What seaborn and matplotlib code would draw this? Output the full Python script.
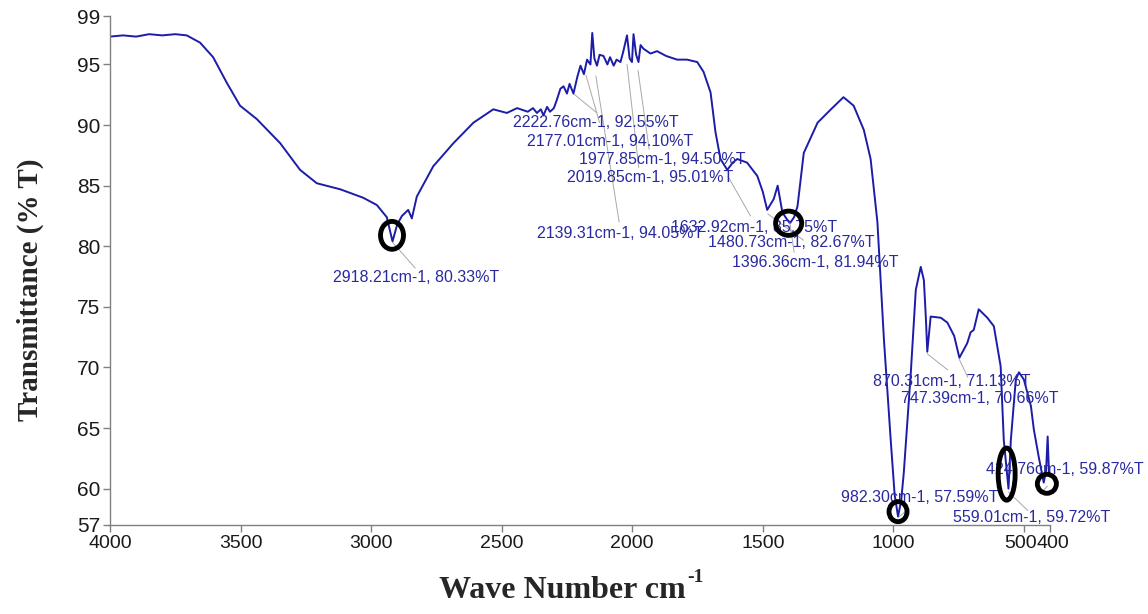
import numpy as np
import pandas as pd
import matplotlib
matplotlib.use("Agg")
import matplotlib.pyplot as plt
import matplotlib.transforms as mtransforms
from matplotlib.patches import Ellipse
import seaborn as sns

# ---- data ----
wavenumber = [4000, 3950, 3900, 3850, 3800, 3750, 3706, 3655, 3605, 3553, 3502, 3438,
              3348, 3272, 3208, 3118, 3030, 2978, 2940, 2918, 2900, 2882, 2858, 2844,
              2825, 2762, 2685, 2608, 2532, 2480, 2441, 2400, 2380, 2365, 2350, 2340,
              2326, 2315, 2300, 2290, 2275, 2263, 2250, 2240, 2225, 2210, 2198, 2185,
              2173, 2160, 2153, 2145, 2135, 2125, 2110, 2095, 2085, 2071, 2060, 2045,
              2035, 2020, 2010, 2001, 1995, 1985, 1976, 1968, 1957, 1930, 1905, 1870,
              1828, 1790, 1751, 1727, 1700, 1681, 1662, 1636, 1615, 1598, 1560, 1521,
              1500, 1483, 1458, 1443, 1425, 1410, 1396, 1380, 1367, 1343, 1290, 1239,
              1191, 1152, 1113, 1087, 1061, 1036, 1010, 995, 982, 970, 960, 933, 914,
              895, 883, 875, 870, 857, 818, 793, 767, 747, 717, 704, 692, 673, 640,
              615, 589, 577, 559, 550, 531, 519, 500, 473, 462, 443, 424, 415, 409,
              404, 400]
transmittance = [97.3, 97.4, 97.3, 97.5, 97.4, 97.5, 97.4, 96.8, 95.6, 93.5, 91.6, 90.5,
                 88.5, 86.3, 85.2, 84.7, 84.0, 83.4, 82.4, 80.4, 81.8, 82.5, 83.0, 82.3,
                 84.1, 86.6, 88.5, 90.2, 91.3, 91.0, 91.4, 91.1, 91.4, 91.0, 91.3, 90.8,
                 91.5, 91.1, 91.4, 92.0, 93.0, 93.2, 92.6, 93.4, 92.6, 94.0, 94.9, 94.2,
                 95.4, 95.0, 97.6, 95.5, 94.9, 95.8, 95.7, 95.0, 95.6, 94.9, 95.4, 95.2,
                 96.0, 97.4, 95.5, 95.2, 97.5, 95.8, 95.2, 96.6, 96.3, 95.9, 96.1, 95.7,
                 95.4, 95.4, 95.2, 94.4, 92.7, 89.4, 87.2, 86.3, 86.9, 87.2, 86.9, 85.8,
                 84.5, 83.0, 83.9, 85.0, 82.8, 82.3, 81.9, 82.4, 83.3, 87.7, 90.2, 91.3,
                 92.3, 91.6, 89.6, 87.2, 82.0, 72.3, 64.0, 59.5, 57.7, 59.0, 61.3, 69.6,
                 76.4, 78.3, 77.2, 73.9, 71.3, 74.2, 74.1, 73.7, 72.6, 70.8, 72.0, 72.9,
                 73.1, 74.8, 74.1, 73.4, 70.1, 64.0, 60.0, 64.0, 69.0, 69.6, 69.0, 66.8,
                 64.9, 62.6, 60.5, 61.5, 64.3, 61.3, 61.0]

# peak annotations
peak_labels = ["2918.21cm-1, 80.33%T", "2222.76cm-1, 92.55%T", "2177.01cm-1, 94.10%T",
               "1977.85cm-1, 94.50%T", "2019.85cm-1, 95.01%T", "2139.31cm-1, 94.05%T",
               "1632.92cm-1, 85.75%T", "1480.73cm-1, 82.67%T", "1396.36cm-1, 81.94%T",
               "870.31cm-1, 71.13%T", "747.39cm-1, 70.66%T", "424.76cm-1, 59.87%T",
               "982.30cm-1, 57.59%T", "559.01cm-1, 59.72%T"]
peak_x = [2918.21, 2222.76, 2177.01, 1977.85, 2019.85, 2139.31, 1632.92, 1480.73,
          1396.36, 870.31, 747.39, 424.76, 982.30, 559.01]
peak_y = [80.33, 92.55, 94.10, 94.50, 95.01, 94.05, 85.75, 82.67, 81.94, 71.13,
          70.66, 59.87, 57.59, 59.72]
label_x = [3145, 2455, 2402, 2202, 2248, 2363, 1853, 1708, 1616, 1079, 972, 646, 1202, 773]
label_y = [77.4, 90.2, 88.65, 87.2, 85.7, 81.05, 81.55, 80.3, 78.7, 68.8, 67.4, 61.55, 59.3, 57.66]
leader_x = [2831, 2135, 2125, 1935, 1975, 2050, 1547, 1344, 1380, 792, 715, 410, 950, 485]
leader_y = [78.2, 91.0, 90.2, 88.0, 86.5, 82.0, 82.5, 80.5, 79.5, 69.8, 69.2, 60.2, 58.2, 58.2]

# highlighted regions (black rings)
ring_x = [2920, 1401, 982, 566, 412]
ring_y = [80.9, 81.9, 58.1, 61.2, 60.4]
ring_w = [88, 100, 69, 65, 73]
ring_h = [2.3, 2.0, 1.65, 4.3, 1.57]

x_ticks = [4000, 3500, 3000, 2500, 2000, 1500, 1000, 500, 400]
y_ticks = [57, 60, 65, 70, 75, 80, 85, 90, 95, 99]

# ---- plot ----
sns.set_theme(style="white")
plt.rcParams["font.family"] = ["Liberation Sans", "DejaVu Sans"]

df = pd.DataFrame({"wn": wavenumber, "T": transmittance})

fig = plt.figure(figsize=(11.48, 6.14), dpi=100)
ax = fig.add_axes([110 / 1148, 1 - 525 / 614, 940 / 1148, 509 / 614])

sns.lineplot(data=df, x="wn", y="T", ax=ax, sort=False, estimator=None,
             color="#1c1ca8", lw=1.4)

ax.set_xlim(4000, 400)
ax.set_ylim(57, 99)
ax.set_xticks(x_ticks)
ax.set_yticks(y_ticks)
ax.set_xticklabels([str(t) for t in x_ticks], fontsize=14, color="#1a1a1a")
ax.set_yticklabels([str(t) for t in y_ticks], fontsize=15, color="#1a1a1a")
ax.tick_params(axis="both", direction="out", length=5, width=1, color="#808080",
               pad=2, left=True, bottom=True)
ax.set_xlabel("")
ax.set_ylabel("")
for s in ["top", "right"]:
    ax.spines[s].set_visible(False)
for s in ["left", "bottom"]:
    ax.spines[s].set_color("#808080")
    ax.spines[s].set_linewidth(1.0)

# the 500 and 400 labels sit side by side ("500400"); nudge them apart slightly
for lab in ax.get_xticklabels():
    if lab.get_text() == "500":
        lab.set_transform(lab.get_transform() +
                          mtransforms.ScaledTranslation(-3 / 100, 0, fig.dpi_scale_trans))
    elif lab.get_text() == "400":
        lab.set_transform(lab.get_transform() +
                          mtransforms.ScaledTranslation(3 / 100, 0, fig.dpi_scale_trans))

for lab, px, py, lx, ly, ex, ey in zip(peak_labels, peak_x, peak_y, label_x, label_y,
                                        leader_x, leader_y):
    ax.plot([px, ex], [py, ey], color="#a8a8a8", lw=0.7, zorder=2, clip_on=False)
    ax.text(lx, ly, lab, ha="left", va="center", fontsize=11.5, color="#2a2aa0",
            clip_on=False, zorder=3)

for cx, cy, w, h in zip(ring_x, ring_y, ring_w, ring_h):
    ax.add_patch(Ellipse((cx, cy), w, h, fill=False, edgecolor="black", lw=3.5,
                         zorder=5, clip_on=False))

fig.text(30 / 1148, 1 - 290 / 614, "Transmittance (% T)", rotation=90, ha="center",
         va="center", fontsize=21, fontweight="bold", family="Liberation Serif")
fig.text(686 / 1148, 1 - 590 / 614, "Wave Number cm", ha="right",
         va="center", fontsize=23, fontweight="bold", family="Liberation Serif")
fig.text(687 / 1148, 1 - 578 / 614, "-1", ha="left",
         va="center", fontsize=14, fontweight="bold", family="Liberation Serif")

fig.savefig("out.png", dpi=100, facecolor="white")
